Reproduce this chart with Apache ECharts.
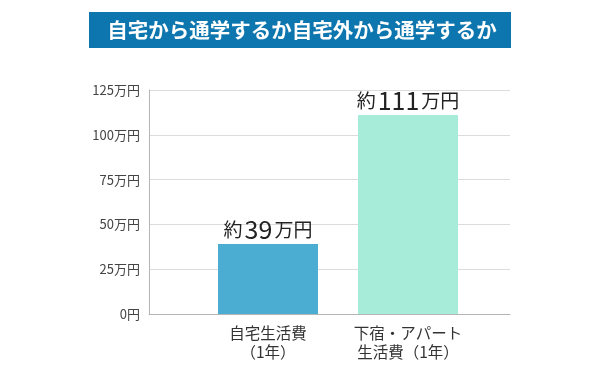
<!DOCTYPE html>
<html><head><meta charset="utf-8">
<script src="https://cdn.jsdelivr.net/npm/echarts@6/dist/echarts.min.js"></script>
<style>html,body{margin:0;padding:0;background:#fff}#c{width:600px;height:369px}</style>
</head><body><div id="c"></div>
<script>
const titleText = '自宅から通学するか自宅外から通学するか';
const categories = ['自宅生活費\n（1年）', '下宿・アパート\n生活費（1年）'];
const values = [39, 111];
const barColors = ['#4badd2', '#a6ecd8'];
const yTicks = [0, 25, 50, 75, 100, 125];
const labelPrefix = '約';
const labelUnit = '万円';

const chart = echarts.init(document.getElementById('c'), null, {renderer: 'canvas'});
const font = '"Noto Sans CJK JP", "Noto Sans", sans-serif';
chart.setOption({
  animation: false,
  textStyle: {fontFamily: font},
  graphic: [
    {type: 'rect', shape: {x: 89, y: 12, width: 422, height: 36}, style: {fill: '#0e76ae'}},
    {type: 'text', x: 302, y: 30, style: {text: titleText, fill: '#fff', font: 'bold 20.5px ' + font, textAlign: 'center', textVerticalAlign: 'middle'}}
  ],
  grid: [
    {left: 149, right: 90, top: 90, bottom: 55},
    {left: 198, right: 122, top: 90, bottom: 55}
  ],
  xAxis: [
    {type: 'value', gridIndex: 0, min: 0, max: 1, axisLine: {show: true, onZero: false, lineStyle: {color: '#b5b5b5', width: 1}}, axisTick: {show: false}, axisLabel: {show: false}, splitLine: {show: false}},
    {type: 'category', gridIndex: 1, data: categories, axisLine: {show: false}, axisTick: {show: false},
     axisLabel: {color: '#333', fontSize: 15.5, lineHeight: 19, margin: 10, interval: 0}}
  ],
  yAxis: [
    {type: 'value', gridIndex: 0, min: yTicks[0], max: yTicks[yTicks.length - 1], interval: 25,
     axisLine: {show: true, lineStyle: {color: '#b5b5b5'}}, axisTick: {show: false},
     axisLabel: {color: '#444', fontSize: 13, margin: 9, formatter: v => v === 0 ? '0円' : v + '万円'},
     splitLine: {lineStyle: {color: '#dcdcdc', width: 1}}},
    {type: 'value', gridIndex: 1, min: yTicks[0], max: yTicks[yTicks.length - 1], show: false, splitLine: {show: false}}
  ],
  series: [{
    type: 'bar', xAxisIndex: 1, yAxisIndex: 1, barWidth: 100,
    data: values.map((v, i) => ({value: v, itemStyle: {color: barColors[i]}})),
    label: {
      show: true, position: 'top', distance: 2,
      formatter: p => '{a|' + labelPrefix + '}{b|' + p.value + '}{a|' + labelUnit + '}',
      rich: {
        a: {fontSize: 19, color: '#222', fontFamily: font},
        b: {fontSize: 25, color: '#222', fontFamily: font, padding: [0, 2, 0, 2]}
      }
    }
  }]
});
</script></body></html>
